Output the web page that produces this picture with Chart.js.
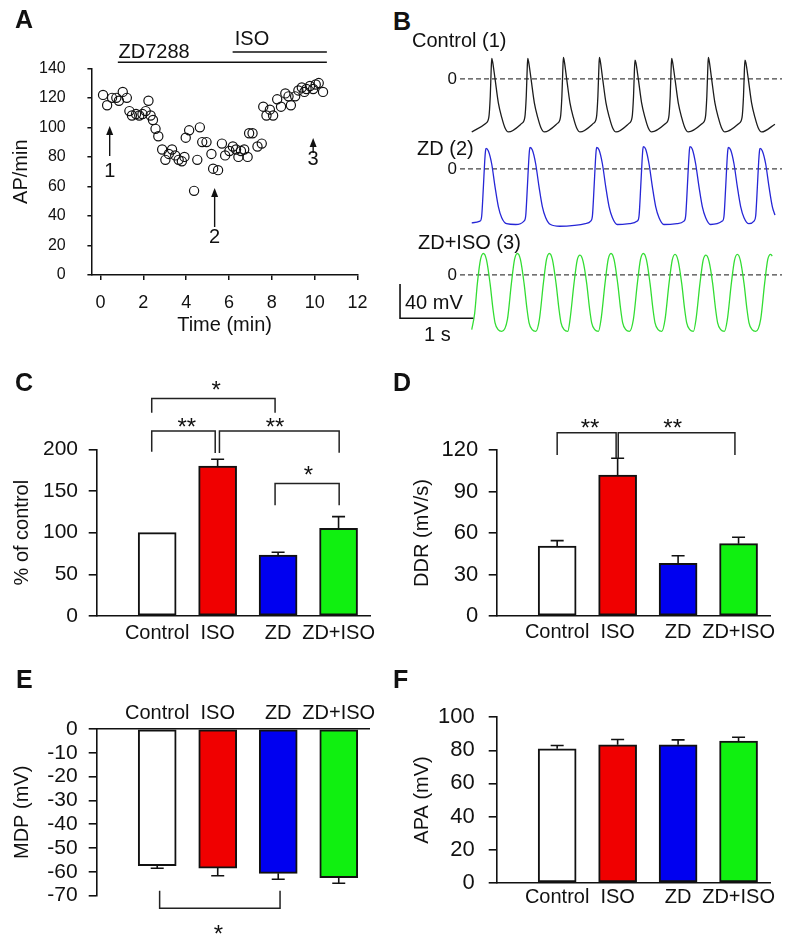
<!DOCTYPE html>
<html>
<head>
<meta charset="utf-8">
<title>ZD7288 / ISO pacemaker figure</title>
<script src="https://cdn.jsdelivr.net/npm/chart.js@4.4.1/dist/chart.umd.min.js"></script>
<style>
  body { margin: 0; background: #fff; }
  #fig { position: relative; width: 800px; height: 946px; overflow: hidden;
         font-family: 'Liberation Sans', Arial, sans-serif; color: #111; }
  #fig canvas { position: absolute; }
  .txt { position: absolute; font-size: 20px; line-height: 1; white-space: nowrap; }
  .panel { font-size: 25px; font-weight: bold; }
</style>
</head>
<body>
<div id="fig">
  <canvas id="chartA" width="380" height="310" style="left:0;top:30px"></canvas>
  <canvas id="traceCtl" width="395" height="112" style="left:395px;top:39.5px"></canvas>
  <canvas id="traceZd" width="395" height="112" style="left:395px;top:130px"></canvas>
  <canvas id="traceIso" width="395" height="112" style="left:395px;top:235.75px"></canvas>
  <canvas id="chartC" width="395" height="280" style="left:0;top:360px"></canvas>
  <canvas id="chartD" width="395" height="280" style="left:400px;top:360px"></canvas>
  <canvas id="chartE" width="395" height="256" style="left:0;top:690px"></canvas>
  <canvas id="chartF" width="395" height="240" style="left:400px;top:690px"></canvas>

  <div class="txt panel" style="left:15px;top:6.5px">A</div>
  <div class="txt panel" style="left:393px;top:9px">B</div>
  <div class="txt panel" style="left:15px;top:370px">C</div>
  <div class="txt panel" style="left:393px;top:370px">D</div>
  <div class="txt panel" style="left:16px;top:666.5px">E</div>
  <div class="txt panel" style="left:393px;top:666.5px">F</div>
  <div class="txt" style="left:412px;top:30px">Control (1)</div>
  <div class="txt" style="left:417px;top:138.3px">ZD (2)</div>
  <div class="txt" style="left:418px;top:231.7px">ZD+ISO (3)</div>
  <div class="txt" style="left:405px;top:291.7px">40 mV</div>
  <div class="txt" style="left:424px;top:324px">1 s</div>
</div>

<script>
// ---- A: spontaneous firing rate ----
var timeMin = [0.12, 0.31, 0.54, 0.74, 0.86, 1.04, 1.23, 1.35, 1.47, 1.66, 1.81, 1.96, 2.11, 2.24, 2.34,
  2.45, 2.57, 2.70, 2.88, 3.03, 3.19, 3.34, 3.49, 3.65, 3.80, 3.92, 3.98, 4.14, 4.37, 4.52,
  4.64, 4.75, 4.95, 5.18, 5.26, 5.49, 5.67, 5.82, 6.02, 6.18, 6.33, 6.44, 6.56, 6.71, 6.87,
  6.94, 7.10, 7.33, 7.53, 7.60, 7.75, 7.91, 8.06, 8.25, 8.43, 8.63, 8.78, 8.89, 9.09, 9.24,
  9.40, 9.52, 9.62, 9.78, 9.93, 10.05, 10.19, 10.39];
var apRate = [122, 115, 120, 120, 118, 124, 120, 111, 108, 109, 108, 109, 111, 118, 108,
  105, 99, 94, 85, 78, 82, 85, 81, 78, 77, 80, 93, 98, 57, 78,
  100, 90, 90, 82, 72, 71, 89, 81, 84, 87, 85, 80, 84, 85, 80,
  96, 96, 87, 89, 114, 108, 112, 108, 119, 114, 123, 121, 115, 121, 125,
  127, 124, 126, 128, 126, 129, 130, 124];
// drug application bars and sample markers (min / AP per min)
var drugs = [
  { name: 'ZD7288', from: 0.81, to: 10.57, y: 144.1, tx: 0.84, ty: 151 },
  { name: 'ISO', from: 6.17, to: 10.57, y: 151, tx: 6.27, ty: 159.6 }
];
var markers = [
  { label: '1', t: 0.43, tip: 100.9, tail: 80.6, ly: 69.8 },
  { label: '2', t: 5.33, tip: 58.9, tail: 32.5, ly: 25.1 },
  { label: '3', t: 9.93, tip: 92.8, tail: 82.6, ly: 78.4 }
];

// ---- B: action potential traces (s / mV) ----
var ctlT = [0, 0.19, 0.233, 0.253, 0.265, 0.273, 0.285, 0.318, 0.363, 0.409, 0.453, 0.5,
  0.682, 0.724, 0.744, 0.756, 0.764, 0.776, 0.809, 0.854, 0.9, 0.944, 0.991,
  1.168, 1.21, 1.23, 1.242, 1.25, 1.262, 1.295, 1.34, 1.386, 1.43, 1.477,
  1.659, 1.701, 1.721, 1.733, 1.741, 1.753, 1.786, 1.831, 1.877, 1.921, 1.968,
  2.145, 2.187, 2.207, 2.219, 2.227, 2.239, 2.272, 2.317, 2.363, 2.407, 2.454,
  2.645, 2.687, 2.707, 2.719, 2.727, 2.739, 2.772, 2.817, 2.863, 2.907, 2.954,
  3.145, 3.187, 3.207, 3.219, 3.227, 3.239, 3.272, 3.317, 3.363, 3.407, 3.454,
  3.645, 3.687, 3.707, 3.719, 3.727, 3.739, 3.772, 3.817, 3.863, 3.907, 3.954,
  4.136];
var ctlV = [-62, -52, -45, -20, 10, 24, 20, 0, -28, -45, -57, -62,
  -52, -45, -20, 10, 24, 20, 0, -28, -45, -57, -62,
  -52, -45, -20, 10, 25, 21, 0, -28, -45, -57, -62,
  -52, -45, -20, 10, 25, 21, 0, -28, -45, -57, -62,
  -52, -45, -20, 10, 22, 19, 0, -28, -45, -57, -62,
  -52, -45, -20, 10, 24, 20, 0, -28, -45, -57, -62,
  -52, -45, -20, 10, 25, 21, 0, -28, -45, -57, -62,
  -52, -45, -20, 10, 22, 19, 0, -28, -45, -57, -62,
  -53];
var zdT = [0, 0.113, 0.136, 0.159, 0.177, 0.188, 0.195, 0.227, 0.272, 0.318, 0.363, 0.409, 0.475,
  0.6, 0.713, 0.736, 0.759, 0.777, 0.788, 0.795, 0.827, 0.872, 0.918, 0.963, 1.009, 1.075,
  1.2, 1.4, 1.55,
  1.623, 1.646, 1.669, 1.687, 1.698, 1.705, 1.737, 1.782, 1.828, 1.873, 1.919, 1.985,
  2.15,
  2.259, 2.282, 2.305, 2.323, 2.334, 2.341, 2.373, 2.418, 2.464, 2.509, 2.555, 2.621,
  2.8,
  2.895, 2.918, 2.941, 2.959, 2.97, 2.977, 3.009, 3.054, 3.1, 3.145, 3.191, 3.257,
  3.418, 3.441, 3.464, 3.482, 3.493, 3.5, 3.532, 3.577, 3.623, 3.668, 3.714, 3.78,
  3.85, 3.873, 3.896, 3.914, 3.925, 3.932, 3.964, 4.009, 4.055, 4.1, 4.136];
var zdV = [-63, -61, -55, -21, 9, 21, 24, 21, 6, -21, -44, -57, -64,
  -65, -61, -55, -21, 9, 22, 25, 22, 6, -21, -44, -57, -65,
  -67, -66, -64,
  -61, -55, -21, 9, 22, 25, 22, 6, -21, -44, -57, -65,
  -64,
  -61, -55, -21, 9, 23, 26, 23, 6, -21, -44, -57, -65,
  -64,
  -61, -55, -21, 9, 23, 26, 23, 6, -21, -44, -57, -65,
  -61, -55, -21, 9, 22, 25, 22, 6, -21, -44, -57, -64,
  -61, -55, -21, 9, 21, 24, 21, 6, -21, -44, -54];
var isoT = [0, 0.04, 0.077, 0.12, 0.159, 0.2, 0.25, 0.29, 0.318, 0.36, 0.41,
  0.487, 0.541, 0.584, 0.623, 0.664, 0.714, 0.754, 0.782, 0.824, 0.874,
  0.923, 0.977, 1.02, 1.059, 1.1, 1.15, 1.19, 1.218, 1.26, 1.31,
  1.341, 1.395, 1.438, 1.477, 1.518, 1.568, 1.608, 1.636, 1.678, 1.728,
  1.764, 1.818, 1.861, 1.9, 1.941, 1.991, 2.031, 2.059, 2.101, 2.151,
  2.205, 2.259, 2.302, 2.341, 2.382, 2.432, 2.472, 2.5, 2.542, 2.592,
  2.637, 2.691, 2.734, 2.773, 2.814, 2.864, 2.904, 2.932, 2.974, 3.024,
  3.059, 3.113, 3.156, 3.195, 3.236, 3.286, 3.326, 3.354, 3.396, 3.446,
  3.487, 3.541, 3.584, 3.623, 3.664, 3.714, 3.754, 3.782, 3.824, 3.874,
  3.941, 3.995, 4.038, 4.077, 4.1];
var isoV = [-64, -45, -10, 18, 25, 18, -10, -40, -56, -64, -66,
  -52, -10, 18, 25, 18, -10, -40, -56, -64, -66,
  -52, -10, 18, 25, 18, -10, -40, -56, -64, -66,
  -52, -10, 17, 23, 16, -10, -40, -56, -64, -66,
  -52, -10, 18, 25, 18, -10, -40, -56, -64, -66,
  -52, -10, 18, 25, 18, -10, -40, -56, -64, -66,
  -52, -10, 17, 24, 17, -10, -40, -56, -64, -66,
  -52, -10, 17, 23, 16, -10, -40, -56, -64, -66,
  -52, -10, 17, 24, 17, -10, -40, -56, -64, -66,
  -52, -10, 18, 24, 22];
// scale bar: 40 mV, 1 s
var scaleBar = { t0: -0.978, v0: -50.6, dt: 1, dv: 40 };

// ---- C-F: group summaries ----
var groups = ['Control', 'ISO', 'ZD', 'ZD+ISO'];
var barFill = ['#ffffff', '#f00000', '#0000f0', '#10f010'];
var rateC = [100, 180, 73.2, 105.2];
var rateErrC = [0, 8, 3.2, 14];
var ddrD = [50.6, 101.9, 38.1, 52.3];
var ddrErrD = [3.9, 12.1, 5.5, 4.6];
var mdpE = [-57.4, -58.4, -60.6, -62.4];
var mdpErrE = [1.1, 3.2, 2.5, 2.4];
var apaF = [80.9, 83.3, 83.3, 85.5];
var apaErrF = [2, 3.2, 3, 2.4];

// significance brackets (x in group index, y in axis units)
var bracketsC = [
  { x1: -0.09, x2: 1.95, y: 261, leg1: 244, leg2: 244, text: '*', tx: 0.975, ty: 275 },
  { x1: -0.09, x2: 0.96, y: 222, leg1: 197, leg2: 195.6, text: '**', tx: 0.49, ty: 231 },
  { x1: 1.03, x2: 3.01, y: 222, leg1: 195.6, leg2: 196, text: '**', tx: 1.95, ty: 231 },
  { x1: 1.95, x2: 3.01, y: 159, leg1: 133, leg2: 133, text: '*', tx: 2.5, ty: 173 }
];
var bracketsD = [
  { x1: 0, x2: 0.975, y: 132.5, leg1: 116.4, leg2: 114.2, text: '**', tx: 0.545, ty: 138.8 },
  { x1: 1.01, x2: 2.94, y: 132.5, leg1: 114.2, leg2: 116.4, text: '**', tx: 1.91, ty: 138.8 }
];
var bracketsE = [
  { x1: 0.04, x2: 2.03, y: -75.3, leg1: -67.9, leg2: -67.9, text: '*', tx: 1.01, ty: -84.4 }
];

var FONT = "'Liberation Sans', Arial, sans-serif";
Chart.defaults.font.family = FONT;
Chart.defaults.color = '#111';
Chart.defaults.animation = false;
Chart.defaults.responsive = false;
Chart.defaults.plugins.legend.display = false;
Chart.defaults.plugins.tooltip.enabled = false;

// drug bars + numbered arrows in panel A
var drugPlugin = {
  id: 'drugLines',
  afterDatasetsDraw: function (chart) {
    var ctx = chart.ctx, x = chart.scales.x, y = chart.scales.y;
    ctx.save();
    ctx.strokeStyle = '#111';
    ctx.fillStyle = '#111';
    ctx.lineWidth = 1.6;
    ctx.font = '20px ' + FONT;
    ctx.textBaseline = 'middle';
    ctx.textAlign = 'left';
    drugs.forEach(function (d) {
      ctx.beginPath();
      ctx.moveTo(x.getPixelForValue(d.from), y.getPixelForValue(d.y));
      ctx.lineTo(x.getPixelForValue(d.to), y.getPixelForValue(d.y));
      ctx.stroke();
      ctx.fillText(d.name, x.getPixelForValue(d.tx), y.getPixelForValue(d.ty));
    });
    ctx.textAlign = 'center';
    ctx.lineWidth = 1.4;
    markers.forEach(function (m) {
      var px = x.getPixelForValue(m.t), tip = y.getPixelForValue(m.tip), tail = y.getPixelForValue(m.tail);
      ctx.beginPath();
      ctx.moveTo(px, tail);
      ctx.lineTo(px, tip + 5);
      ctx.stroke();
      ctx.beginPath();
      ctx.moveTo(px, tip);
      ctx.lineTo(px - 3.5, tip + 9);
      ctx.lineTo(px + 3.5, tip + 9);
      ctx.closePath();
      ctx.fill();
      ctx.fillText(m.label, px, y.getPixelForValue(m.ly));
    });
    ctx.restore();
  }
};

var zeroLinePlugin = {
  id: 'zeroLine',
  beforeDatasetsDraw: function (chart) {
    var ctx = chart.ctx, area = chart.chartArea, py = chart.scales.y.getPixelForValue(0);
    ctx.save();
    ctx.strokeStyle = '#444';
    ctx.lineWidth = 1.3;
    ctx.setLineDash([5, 3]);
    ctx.beginPath();
    ctx.moveTo(area.left, py);
    ctx.lineTo(area.right, py);
    ctx.stroke();
    ctx.restore();
  }
};

var scaleBarPlugin = {
  id: 'scaleBar',
  afterDraw: function (chart, args, o) {
    if (!o || o.dv === undefined) return;
    var ctx = chart.ctx, x = chart.scales.x, y = chart.scales.y;
    var x0 = x.getPixelForValue(o.t0);
    ctx.save();
    ctx.strokeStyle = '#111';
    ctx.lineWidth = 1.6;
    ctx.beginPath();
    ctx.moveTo(x0, y.getPixelForValue(o.v0 + o.dv));
    ctx.lineTo(x0, y.getPixelForValue(o.v0));
    ctx.lineTo(x.getPixelForValue(o.t0 + o.dt), y.getPixelForValue(o.v0));
    ctx.stroke();
    ctx.restore();
  }
};

var errorBarPlugin = {
  id: 'errorBars',
  afterDatasetsDraw: function (chart, args, o) {
    var ctx = chart.ctx, x = chart.scales.x, y = chart.scales.y;
    ctx.save();
    ctx.strokeStyle = '#111';
    ctx.lineWidth = 1.6;
    chart.data.datasets[0].data.forEach(function (p, i) {
      var e = o.errs[i];
      if (!e) return;
      var px = x.getPixelForValue(p.x);
      var y1 = y.getPixelForValue(p.y + o.dir * e);
      ctx.beginPath();
      ctx.moveTo(px, y.getPixelForValue(p.y));
      ctx.lineTo(px, y1);
      ctx.moveTo(px - 6.5, y1);
      ctx.lineTo(px + 6.5, y1);
      ctx.stroke();
    });
    ctx.restore();
  }
};

var bracketPlugin = {
  id: 'brackets',
  afterDraw: function (chart, args, o) {
    var ctx = chart.ctx, x = chart.scales.x, y = chart.scales.y;
    ctx.save();
    ctx.strokeStyle = '#222';
    ctx.fillStyle = '#111';
    ctx.lineWidth = 1.5;
    ctx.font = '24px ' + FONT;
    ctx.textAlign = 'center';
    ctx.textBaseline = 'middle';
    (o.list || []).forEach(function (b) {
      var xa = x.getPixelForValue(b.x1), xb = x.getPixelForValue(b.x2), yy = y.getPixelForValue(b.y);
      ctx.beginPath();
      ctx.moveTo(xa, y.getPixelForValue(b.leg1));
      ctx.lineTo(xa, yy);
      ctx.lineTo(xb, yy);
      ctx.lineTo(xb, y.getPixelForValue(b.leg2));
      ctx.stroke();
      ctx.fillText(b.text, x.getPixelForValue(b.tx), y.getPixelForValue(b.ty) + 5);
    });
    ctx.restore();
  }
};

// panel A
new Chart(document.getElementById('chartA'), {
  type: 'scatter',
  data: {
    datasets: [{
      data: timeMin.map(function (t, i) { return { x: t, y: apRate[i] }; }),
      pointRadius: 4.6,
      pointBorderWidth: 1.2,
      borderColor: '#111',
      backgroundColor: 'rgba(0,0,0,0)'
    }]
  },
  options: {
    layout: { padding: { top: 38.3, right: 18, bottom: 0, left: 0 } },
    scales: {
      x: {
        type: 'linear', min: -0.41, max: 12,
        afterFit: function (s) { s.height = 65; },
        ticks: { stepSize: 2, includeBounds: false, font: { size: 18 }, padding: 12.5 },
        grid: { drawOnChartArea: false, tickLength: 5, color: '#111', lineWidth: 1.5 },
        border: { color: '#111', width: 1.5 },
        title: { display: true, text: 'Time (min)', font: { size: 20 }, padding: { top: 0, bottom: 3 } }
      },
      y: {
        min: 0, max: 140,
        afterFit: function (s) { s.width = 91.7; },
        ticks: { stepSize: 20, font: { size: 16 }, padding: 21.7, autoSkip: false },
        grid: { drawOnChartArea: false, tickLength: 4.3, color: '#111', lineWidth: 1.5 },
        border: { color: '#111', width: 1.5 },
        title: { display: true, text: 'AP/min', font: { size: 20 }, padding: { top: 9.7, bottom: 0 } }
      }
    }
  },
  plugins: [drugPlugin]
});

// panel B
function traceChart(id, t, v, color, bar) {
  return new Chart(document.getElementById(id), {
    type: 'scatter',
    data: {
      datasets: [{
        data: t.map(function (s, i) { return { x: s, y: v[i] }; }),
        showLine: true,
        borderColor: color,
        borderWidth: 1.3,
        pointRadius: 0,
        cubicInterpolationMode: 'monotone'
      }]
    },
    options: {
      // keep top/bottom padding above the tick label half-height so the plot area stays 87.5 px
      layout: { padding: { top: 12, right: 8, bottom: 12.5, left: 0 } },
      scales: {
        x: { type: 'linear', display: false, min: -0.16, max: 4.232 },
        y: {
          min: -70, max: 30,
          afterFit: function (s) { s.width = 65; },
          afterBuildTicks: function (s) { s.ticks = [{ value: 0 }]; },
          ticks: { font: { size: 17 }, padding: 3 },
          grid: { display: false, drawTicks: false },
          border: { display: false }
        }
      },
      plugins: { scaleBar: bar || {} }
    },
    plugins: [zeroLinePlugin, scaleBarPlugin]
  });
}
traceChart('traceCtl', ctlT, ctlV, '#1c1c1c');
traceChart('traceZd', zdT, zdV, '#2626d6');
traceChart('traceIso', isoT, isoV, '#33dd33', scaleBar);

// panels C-F
function barPanel(id, vals, errs, o) {
  return new Chart(document.getElementById(id), {
    type: 'bar',
    data: {
      datasets: [{
        data: vals.map(function (v, i) { return { x: i, y: v }; }),
        backgroundColor: barFill,
        borderColor: '#111',
        borderWidth: 2,
        borderSkipped: false,
        barThickness: 38
      }]
    },
    options: {
      layout: { padding: o.pad },
      scales: {
        x: {
          type: 'linear', offset: false, position: o.xPos || 'bottom',
          min: -1, max: o.xMax || 3.52,
          afterFit: function (s) { s.height = o.xH; },
          afterBuildTicks: function (s) { s.ticks = groups.map(function (g, i) { return { value: i }; }); },
          ticks: { callback: function (v) { return groups[v]; }, font: { size: 20 }, padding: o.xPad, autoSkip: false, maxRotation: 0 },
          grid: { display: false, drawTicks: false },
          border: { color: '#111', width: 1.6 }
        },
        y: {
          min: o.min, max: o.max,
          afterFit: function (s) { s.width = 96.7; },
          ticks: { stepSize: o.step, font: { size: o.tickSize }, padding: o.yPad, autoSkip: false },
          grid: { drawOnChartArea: false, tickLength: 8, color: '#111', lineWidth: 1.6 },
          border: { color: '#111', width: 1.6 },
          title: { display: true, text: o.title, font: { size: 20 }, padding: { top: 10, bottom: 0 } }
        }
      },
      plugins: {
        errorBars: { errs: errs, dir: o.dir || 1 },
        brackets: { list: o.brackets || [] }
      }
    },
    plugins: [errorBarPlugin, bracketPlugin]
  });
}

barPanel('chartC', rateC, rateErrC, {
  pad: { top: 89.3, right: 25, bottom: 0, left: 0 }, xH: 24, xPad: 5,
  min: 0, max: 200, step: 50, tickSize: 21, yPad: 10.7,
  title: '% of control', brackets: bracketsC
});
barPanel('chartD', ddrD, ddrErrD, {
  pad: { top: 90, right: 25, bottom: 0, left: 0 }, xH: 24, xPad: 4.7,
  min: 0, max: 120, step: 30, tickSize: 22, yPad: 10.4,
  title: 'DDR (mV/s)', brackets: bracketsD
});
barPanel('chartE', mdpE, mdpErrE, {
  pad: { top: 0, right: 26, bottom: 50.3, left: 0 }, xPos: 'top', xH: 39, xPad: 3.7, xMax: 3.5,
  min: -70, max: 0, step: 10, tickSize: 21, yPad: 11, dir: -1,
  title: 'MDP (mV)', brackets: bracketsE
});
barPanel('chartF', apaF, apaErrF, {
  pad: { top: 26.7, right: 25, bottom: 0, left: 0 }, xH: 47.3, xPad: 2.6,
  min: 0, max: 100, step: 20, tickSize: 22, yPad: 14,
  title: 'APA (mV)'
});
</script>
</body>
</html>
